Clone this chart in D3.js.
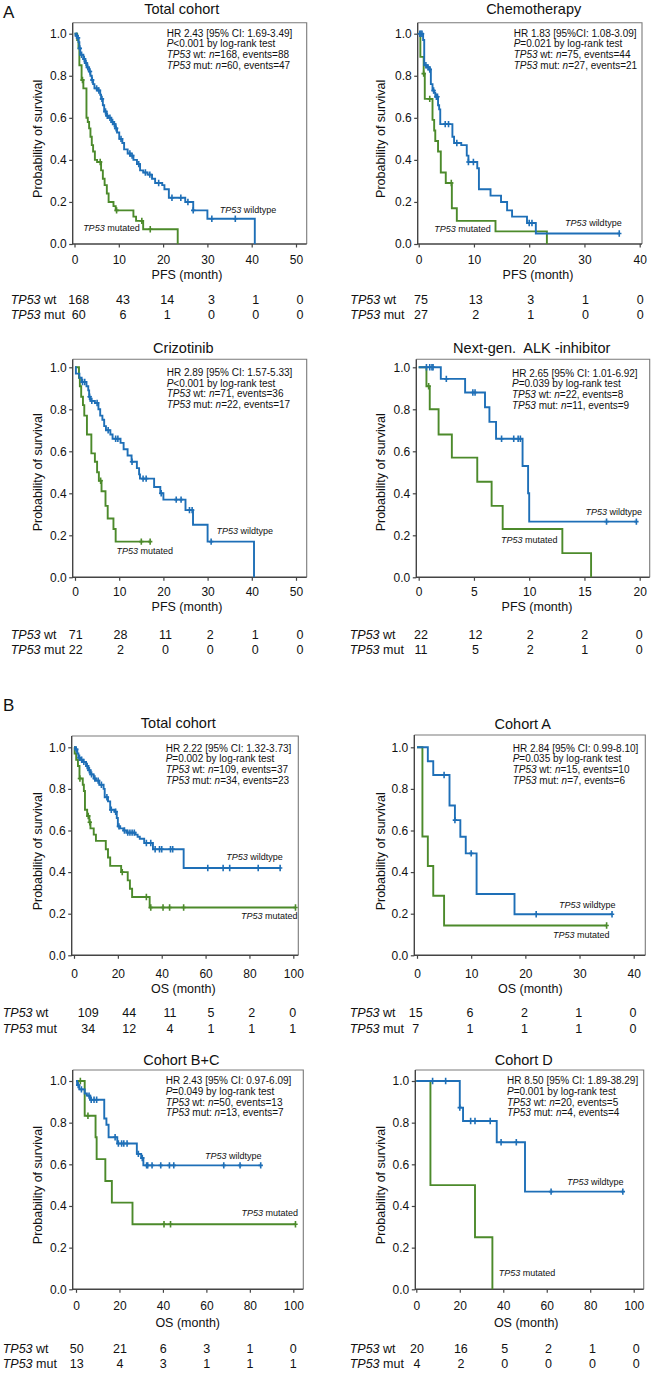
<!DOCTYPE html>
<html><head><meta charset="utf-8">
<script src="https://cdn.jsdelivr.net/npm/d3@7"></script>
<style>
body{margin:0;background:#fff}
text{font-family:"Liberation Sans",Arial,sans-serif;fill:#111;white-space:pre}
</style>
</head><body><svg id="c" width="654" height="1374"></svg>
<script>
// ---------------- DATA ----------------
const titles = ["Total cohort","Chemotherapy","Crizotinib","Next-gen.  ALK -inhibitor","Total cohort","Cohort A","Cohort B+C","Cohort D"];
const xTitles = ["PFS (month)","PFS (month)","PFS (month)","PFS (month)","OS (month)","OS (month)","OS (month)","OS (month)"];
const xMax = [50,40,50,20,100,40,100,100];
const xStep = [10,10,10,5,20,10,20,20];
const yTicks = [0,0.2,0.4,0.6,0.8,1.0];
const hrText = ["HR 2.43 [95% CI: 1.69-3.49]","HR 1.83 [95%CI: 1.08-3.09]","HR 2.89 [95% CI: 1.57-5.33]","HR 2.65 [95% CI: 1.01-6.92]",
  "HR 2.22 [95% CI: 1.32-3.73]","HR 2.84 [95% CI: 0.99-8.10]","HR 2.43 [95% CI: 0.97-6.09]","HR 8.50 [95% CI: 1.89-38.29]"];
const pText = ["<0.001","=0.021","<0.001","=0.039","=0.002","=0.035","=0.049","=0.001"];
const nWt = [168,75,71,22,109,15,50,20];
const evWt = [88,44,36,8,37,10,13,5];
const nMut = [60,27,22,11,34,7,13,4];
const evMut = [47,21,17,9,23,6,7,4];
const riskWt = [[168,43,14,3,1,0],[75,13,3,1,0],[71,28,11,2,1,0],[22,12,2,2,0],[109,44,11,5,2,0],[15,6,2,1,0],[50,21,6,3,1,0],[20,16,5,2,1,0]];
const riskMut = [[60,6,1,0,0,0],[27,2,1,0,0],[22,2,0,0,0,0],[11,5,2,1,0],[34,12,4,1,1,1],[7,1,1,1,0],[13,4,3,1,1,1],[4,2,0,0,0,0]];

// Kaplan-Meier steps [time, survival after event] and censor times
const pfsTotWt = [[0.3,0.99],[0.6,0.98],[0.9,0.96],[1.1,0.93],[1.3,0.90],[2.0,0.88],[2.4,0.86],[2.8,0.84],[3.3,0.82],[3.6,0.80],[3.9,0.78],[4.2,0.76],[4.5,0.74],[5.3,0.73],[5.8,0.71],[6.0,0.69],[6.4,0.66],[6.7,0.63],[7.2,0.61],[7.6,0.60],[8.3,0.58],[8.8,0.57],[9.2,0.55],[9.6,0.53],[10.1,0.50],[10.8,0.48],[11.2,0.45],[12.0,0.43],[12.6,0.42],[13.3,0.40],[14.1,0.38],[14.8,0.35],[15.5,0.34],[16.5,0.33],[17.5,0.31],[18.2,0.29],[19.8,0.28],[20.3,0.26],[21.3,0.22],[25.0,0.20],[26.8,0.16],[30.0,0.12],[40.7,0.0]];
const pfsTotWtCens = [0.5,0.8,1.2,1.6,2.2,2.6,3.0,3.5,4.0,5.0,5.5,6.2,7.0,7.4,8.0,8.6,9.0,9.4,10.5,12.5,13.0,14.5,16.0,17.0,19.0,22.0,24.0,25.6,26.8,31.0,36.3];
const pfsTotMut = [[0.6,0.97],[0.9,0.93],[1.1,0.85],[1.6,0.78],[2.0,0.74],[2.7,0.60],[3.0,0.58],[3.3,0.55],[3.6,0.51],[3.9,0.47],[4.2,0.44],[4.6,0.40],[5.1,0.39],[6.0,0.35],[6.4,0.31],[6.8,0.28],[7.3,0.24],[7.7,0.20],[8.8,0.18],[9.3,0.16],[13.3,0.13],[13.9,0.11],[15.5,0.07],[23.3,0.0]];
const pfsTotMutCens = [1.8,5.8,9.5,15.2,17.1];

const pfsChemoWt = [[0.8,0.97],[1.0,0.85],[1.5,0.84],[2.0,0.83],[2.2,0.76],[2.5,0.73],[2.8,0.72],[3.0,0.70],[3.5,0.66],[3.7,0.64],[3.9,0.57],[6.1,0.51],[6.4,0.48],[7.7,0.47],[8.7,0.42],[9.0,0.39],[10.6,0.36],[10.9,0.26],[13.0,0.23],[14.9,0.20],[16.0,0.16],[16.9,0.13],[19.6,0.10],[21.2,0.05]];
const pfsChemoWtCens = [0.2,0.4,0.6,1.3,1.7,2.0,2.7,3.2,3.4,4.8,5.4,6.9,9.0,9.9,20.0,20.5,36.3];
const pfsChemoMut = [[0.3,0.89],[0.9,0.81],[1.1,0.69],[2.5,0.59],[2.8,0.54],[3.0,0.49],[3.5,0.44],[4.0,0.34],[4.9,0.29],[6.0,0.17],[6.9,0.11],[13.9,0.06],[23.2,0.0]];
const pfsChemoMutCens = [0.9,2.0,5.9];

const pfsCrizWt = [[0.2,0.97],[1.0,0.95],[1.5,0.93],[2.6,0.91],[3.0,0.89],[3.2,0.86],[3.5,0.84],[4.5,0.83],[5.3,0.80],[5.7,0.77],[6.2,0.75],[6.6,0.72],[7.0,0.70],[8.0,0.68],[8.5,0.66],[10.3,0.64],[11.0,0.61],[11.9,0.58],[12.8,0.55],[14.0,0.52],[14.5,0.49],[14.7,0.47],[17.9,0.43],[19.3,0.40],[20.0,0.37],[25.0,0.32],[26.7,0.25],[30.0,0.17],[40.5,0.0]];
const pfsCrizWtCens = [1.7,2.2,3.3,3.8,5.0,7.5,9.2,9.7,12.9,15.4,16.1,19.5,22.9,24.0,25.9,26.5,30.8];
const pfsCrizMut = [[0.9,0.95],[1.1,0.91],[1.4,0.86],[1.8,0.82],[2.1,0.77],[2.7,0.68],[3.7,0.59],[4.5,0.55],[5.0,0.50],[5.4,0.46],[6.0,0.41],[6.9,0.34],[7.4,0.28],[8.7,0.23],[9.2,0.17]];
const pfsCrizMutCens = [5.8,15.0,17.0];

const pfsNextWt = [[2.0,0.945],[4.2,0.88],[6.0,0.81],[6.4,0.74],[7.0,0.66],[9.4,0.53],[9.9,0.40],[10.0,0.265]];
const pfsNextWtCens = [0.7,1.0,1.2,1.3,2.5,4.9,5.1,7.5,8.6,9.0,9.2,17.0,19.7];
const pfsNextMut = [[0.7,0.91],[1.0,0.80],[1.8,0.68],[3.0,0.57],[5.3,0.455],[6.6,0.34],[7.6,0.23],[13.0,0.115],[15.6,0.0]];
const pfsNextMutCens = [0.9];

const osTotWt = [[0.5,0.99],[1.5,0.97],[2.0,0.95],[3.0,0.94],[4.0,0.93],[5.5,0.91],[6.5,0.89],[7.5,0.87],[9.0,0.85],[10.0,0.84],[11.5,0.82],[13.5,0.80],[14.0,0.76],[15.5,0.74],[16.5,0.70],[18.5,0.69],[19.5,0.66],[20.0,0.62],[21.0,0.61],[22.5,0.60],[24.0,0.59],[28.0,0.58],[29.0,0.57],[30.0,0.56],[32.0,0.54],[36.0,0.51],[50.0,0.42]];
const osTotWtCens = [1,2.5,3.5,4.5,6,7,8,9.5,11,12.5,15,17,19,20.5,23,24.5,25.5,26.5,27.5,33,35,37,39,40,44,45,61,68,71,84,94];
const osTotMut = [[0.3,0.97],[1.0,0.94],[1.8,0.91],[2.5,0.85],[4.0,0.82],[4.5,0.79],[5.0,0.70],[6.0,0.67],[7.0,0.64],[7.5,0.61],[9.0,0.58],[10.0,0.55],[14.5,0.51],[15.5,0.47],[16.5,0.43],[21.5,0.40],[24.5,0.36],[25.5,0.32],[26.5,0.28],[34.5,0.23]];
const osTotMutCens = [2.7,6.5,7.2,22,33,35,40.6,43.6,50,101];

const osAWt = [[2,0.933],[3,0.867],[6,0.72],[7,0.65],[8,0.57],[9,0.49],[11,0.295],[18,0.197]];
const osAWtCens = [5,7,10,22,36];
const osAMut = [[1,0.571],[2,0.429],[3,0.286],[5,0.143]];
const osAMutCens = [35];

const osBCWt = [[0.5,0.98],[1.5,0.96],[4.0,0.94],[5.0,0.93],[6.5,0.91],[13.0,0.82],[14.0,0.79],[15.0,0.73],[19.0,0.70],[28.0,0.65],[30.0,0.63],[31.0,0.595]];
const osBCWtCens = [1,2.5,6,7,8.3,9.5,18,19.5,21,22,23.5,28.7,30.5,32.5,33,35,39,43,45,68,75.5,85];
const osBCMut = [[4,0.833],[9,0.73],[9.5,0.625],[13.5,0.52],[16.5,0.416],[26,0.312]];
const osBCMutCens = [2,5.5,40.5,43.5,101];

const osDWt = [[20,0.872],[21.5,0.808],[37,0.706],[50,0.469]];
const osDWtCens = [7.5,13.5,20,25,27,34,39,46,62,95];
const osDMut = [[6.5,0.5],[27,0.25],[35,0.0]];
const osDMutCens = [];

const wtCurves = [pfsTotWt,pfsChemoWt,pfsCrizWt,pfsNextWt,osTotWt,osAWt,osBCWt,osDWt];
const wtCens = [pfsTotWtCens,pfsChemoWtCens,pfsCrizWtCens,pfsNextWtCens,osTotWtCens,osAWtCens,osBCWtCens,osDWtCens];
const mutCurves = [pfsTotMut,pfsChemoMut,pfsCrizMut,pfsNextMut,osTotMut,osAMut,osBCMut,osDMut];
const mutCens = [pfsTotMutCens,pfsChemoMutCens,pfsCrizMutCens,pfsNextMutCens,osTotMutCens,osAMutCens,osBCMutCens,osDMutCens];

// ---------------- LAYOUT (pixels) ----------------
const layouts = [
 {box:[72.7,306.7,22.7,244], xr:[74.5,296], y1:33.7, title:[181.7,14], ann:[166.7,36.5], tickY:264, xt:[187,278.5], ytx:42, rows:[304,318.5], rlx:10.7, rx:[78.7,300], wl:[32.8,0.149], ml:[1.95,0.062]},
 {box:[417.7,642,22.7,244], xr:[418.7,639.7], y1:33.7, title:[533.7,14], ann:[513.7,36.5], tickY:264, xt:[538,278.5], ytx:385, rows:[304,318.5], rlx:350.3, rx:[421,640.3], wl:[26.5,0.086], ml:[2.8,0.059]},
 {box:[72.7,306.7,359.3,577.3], xr:[75,296], y1:367.3, title:[183.3,352.7], ann:[166.7,376], tickY:595.7, xt:[187,611], ytx:42, rows:[639.3,654], rlx:10.7, rx:[75.7,300], wl:[32,0.206], ml:[9.4,0.111]},
 {box:[416.3,649.7,359.3,577.3], xr:[418.7,639.7], y1:367.3, title:[531.7,352.7], ann:[512,376.7], tickY:595.7, xt:[537,611], ytx:385, rows:[639.3,654], rlx:349.7, rx:[421,639.3], wl:[15.1,0.297], ml:[7.45,0.165]},
 {box:[71.7,298.3,736,955.3], xr:[74,293.3], y1:747.3, title:[178.3,728.3], ann:[165.7,751.7], tickY:977.7, xt:[183.3,993.3], ytx:42, rows:[1017.3,1032.7], rlx:2.7, rx:[88.3,292.7], wl:[69.4,0.458], ml:[76.2,0.173]},
 {box:[414.3,645.3,735,955.3], xr:[417,633.7], y1:747.3, title:[522.8,729.3], ann:[512.7,751.7], tickY:977.7, xt:[530.3,993.3], ytx:385, rows:[1017.3,1032.7], rlx:349.7, rx:[415.8,633], wl:[26.2,0.226], ml:[25.1,0.082]},
 {box:[72.7,303.3,1070,1289.3], xr:[76,293.3], y1:1081, title:[181.3,1065], ann:[165.7,1084.3], tickY:1310, xt:[187.7,1327.3], ytx:42, rows:[1353.3,1368.3], rlx:2.7, rx:[76.7,293.3], wl:[59.4,0.624], ml:[76.2,0.352]},
 {box:[415.3,643.7,1070,1289.3], xr:[416.3,633.7], y1:1081, title:[523.7,1065], ann:[507,1084.3], tickY:1310, xt:[526.2,1327.3], ytx:385, rows:[1353.3,1368.3], rlx:349.7, rx:[417,636.3], wl:[69.3,0.5], ml:[37.9,0.064]}
];

const BLUE = "#1e6fb7", GREEN = "#4c8a2b";
const svg = d3.select("#c");

function mixed(sel, segs){
  segs.forEach(([t,it]) => sel.append("tspan").attr("font-style", it ? "italic" : "normal").text(t));
  return sel;
}
function survAt(steps, t){ let s = 1; for (const [tt,ss] of steps) if (tt <= t) s = ss; return s; }

function drawPanel(i){
  const L = layouts[i];
  const [bl, br, bt, bb] = L.box;
  const g = svg.append("g");
  const x = d3.scaleLinear().domain([0, xMax[i]]).range(L.xr);
  const y = d3.scaleLinear().domain([0, 1]).range([bb, L.y1]);

  // frame
  g.append("path").attr("d", `M${bl},${bt}H${br}V${bb}`).attr("fill","none").attr("stroke","#7a7a7a").attr("stroke-width",1.1);
  g.append("path").attr("d", `M${bl},${bt}V${bb}H${br}`).attr("fill","none").attr("stroke","#444").attr("stroke-width",1.4);

  // y axis
  const ya = g.append("g").attr("transform", `translate(${bl},0)`)
    .call(d3.axisLeft(y).tickValues(yTicks).tickFormat(d3.format(".1f")).tickSize(3.5).tickPadding(2.5));
  ya.select(".domain").remove();
  ya.selectAll("line").attr("stroke","#444").attr("stroke-width",1.2);
  ya.selectAll("text").attr("font-size",12).attr("font-family","Liberation Sans, Arial, sans-serif").attr("fill","#111");

  // x axis
  const xa = g.append("g").attr("transform", `translate(0,${bb})`)
    .call(d3.axisBottom(x).tickValues(d3.range(0, xMax[i] + 0.001, xStep[i])).tickSize(3.5));
  xa.select(".domain").remove();
  xa.selectAll("line").attr("stroke","#444").attr("stroke-width",1.2);
  xa.selectAll("text").attr("font-size",12).attr("font-family","Liberation Sans, Arial, sans-serif").attr("fill","#111")
    .attr("y", L.tickY - bb).attr("dy", 0);

  // titles
  g.append("text").attr("x", L.title[0]).attr("y", L.title[1]).attr("text-anchor","middle").attr("font-size",14.5).text(titles[i]);
  g.append("text").attr("x", L.xt[0]).attr("y", L.xt[1]).attr("text-anchor","middle").attr("font-size",12.5).text(xTitles[i]);
  g.append("text").attr("transform", `translate(${L.ytx},${(bb + L.y1)/2}) rotate(-90)`).attr("text-anchor","middle").attr("font-size",12.5).text("Probability of survival");

  // annotation block
  const lh = 10.7, ax = L.ann[0], ay = L.ann[1];
  g.append("text").attr("x", ax).attr("y", ay).attr("font-size",10).text(hrText[i]);
  mixed(g.append("text").attr("x", ax).attr("y", ay + lh).attr("font-size",10), [["P",true],[pText[i] + " by log-rank test",false]]);
  mixed(g.append("text").attr("x", ax).attr("y", ay + 2*lh).attr("font-size",10), [["TP53",true],[" wt: ",false],["n",true],["=" + nWt[i] + ", events=" + evWt[i],false]]);
  mixed(g.append("text").attr("x", ax).attr("y", ay + 3*lh).attr("font-size",10), [["TP53",true],[" mut: ",false],["n",true],["=" + nMut[i] + ", events=" + evMut[i],false]]);

  // curves
  const line = d3.line().x(d => x(d[0])).y(d => y(d[1])).curve(d3.curveStepAfter);
  const groups = [[mutCurves[i], mutCens[i], GREEN],[wtCurves[i], wtCens[i], BLUE]];
  groups.forEach(([steps, cens, col]) => {
    const last = steps[steps.length - 1];
    const end = Math.max(last[0], cens.length ? d3.max(cens) : 0);
    const pts = [[0,1], ...steps, [end, last[1]]];
    g.append("path").attr("d", line(pts)).attr("fill","none").attr("stroke", col).attr("stroke-width",1.9);
    g.selectAll(null).data(cens).join("path")
      .attr("d", t => { const px = x(t), py = y(survAt(steps, t)); return `M${px},${py-3.2}V${py+3.2}M${px-2.2},${py}H${px+2.2}`; })
      .attr("stroke", col).attr("stroke-width",1.6).attr("fill","none");
  });

  // curve labels
  mixed(g.append("text").attr("x", x(L.wl[0])).attr("y", y(L.wl[1])).attr("font-size",9), [["TP53",true],[" wildtype",false]]);
  mixed(g.append("text").attr("x", x(L.ml[0])).attr("y", y(L.ml[1])).attr("font-size",9), [["TP53",true],[" mutated",false]]);

  // risk table
  const rx = d3.scalePoint().domain(d3.range(riskWt[i].length)).range(L.rx);
  mixed(g.append("text").attr("x", L.rlx).attr("y", L.rows[0]).attr("font-size",12.5), [["TP53",true],[" wt",false]]);
  mixed(g.append("text").attr("x", L.rlx).attr("y", L.rows[1]).attr("font-size",12.5), [["TP53",true],[" mut",false]]);
  g.selectAll(null).data(riskWt[i]).join("text").attr("x", (d,k) => rx(k)).attr("y", L.rows[0]).attr("text-anchor","middle").attr("font-size",12.5).text(d => d);
  g.selectAll(null).data(riskMut[i]).join("text").attr("x", (d,k) => rx(k)).attr("y", L.rows[1]).attr("text-anchor","middle").attr("font-size",12.5).text(d => d);
}

d3.range(8).forEach(drawPanel);
svg.append("text").attr("x",3).attr("y",18).attr("font-size",17).text("A");
svg.append("text").attr("x",3).attr("y",710.7).attr("font-size",17).text("B");
</script>
</body></html>
